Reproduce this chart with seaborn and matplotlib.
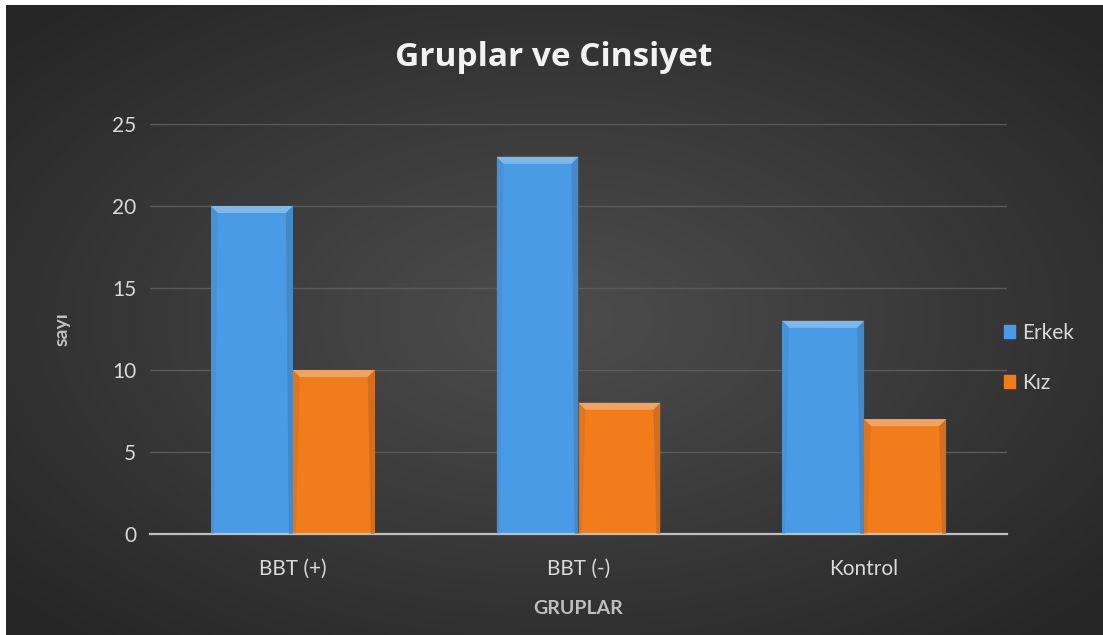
import numpy as np
import pandas as pd
import matplotlib.pyplot as plt
import seaborn as sns
from matplotlib.patches import Polygon

# data
groups = ["BBT (+)", "BBT (-)", "Kontrol"]
erkek = [20, 23, 13]
kiz = [10, 8, 7]
series_names = ["Erkek", "Kız"]
colors = ["#4a9be6", "#f07c1c"]

df = pd.DataFrame({
    "grup": groups * 2,
    "sayi": erkek + kiz,
    "cinsiyet": [series_names[0]] * 3 + [series_names[1]] * 3,
})

sns.set_style("dark")
plt.rcParams['font.family'] = ['Lato', 'DejaVu Sans']
txt = "#d9d9d9"

fig = plt.figure(figsize=(11.03, 6.35), dpi=100, facecolor="white")

# dark radial gradient background (Excel style)
bg = fig.add_axes([6 / 1103, 0, 1 - 6 / 1103, 1 - 5 / 635], zorder=-10)
yy, xx = np.mgrid[-1:1:300j, -1:1:500j]
r = np.sqrt(xx ** 2 + yy ** 2)
bg.imshow(r, cmap=sns.blend_palette(["#4d4d4d", "#3a3a3a", "#262626"], as_cmap=True),
          aspect="auto", extent=[0, 1, 0, 1], vmin=0, vmax=1.35)
bg.axis("off")

ax = fig.add_axes([150 / 1103, 101 / 635, 857 / 1103, 410 / 635])
ax.patch.set_alpha(0)
sns.barplot(data=df, x="grup", y="sayi", hue="cinsiyet", palette=colors,
            width=0.574, saturation=1, gap=0, ax=ax, legend=True, zorder=3,
            edgecolor="none", linewidth=0)

ax.set_ylim(0, 25)
ax.set_yticks(range(0, 26, 5))
ax.grid(axis="y", color="#5a5a5a", linewidth=1, zorder=0)
ax.grid(axis="x", visible=False)
for s in ["top", "right", "left"]:
    ax.spines[s].set_visible(False)
ax.spines["bottom"].set_color("#bfbfbf")
ax.spines["bottom"].set_linewidth(1.6)
ax.spines["bottom"].set_zorder(5)
ax.tick_params(axis="both", colors=txt, labelsize=15, length=0, pad=10)
ax.tick_params(axis="x", pad=18)

ax.set_xlabel("GRUPLAR", color="#bfbfbf", fontsize=14, fontweight="bold", labelpad=15)
ax.set_ylabel("sayı", color="#bfbfbf", fontsize=14, fontweight="bold", labelpad=30)

fig.suptitle("Gruplar ve Cinsiyet", color="#f2f2f2", fontsize=24, fontweight="bold",
             family=["Open Sans", "DejaVu Sans"], y=1 - 57 / 635, va="center", x=0.502)

# bevel look on bars, derived from the drawn patches
fig.canvas.draw()
for cont, base in zip(ax.containers, colors):
    light = sns.light_palette(base, 4, reverse=True)[1]
    dark = sns.dark_palette(base, 5, reverse=True)[1]
    for p in cont.patches:
        x0, y0 = ax.transData.transform((p.get_x(), 0))
        x1, y1 = ax.transData.transform((p.get_x() + p.get_width(), p.get_height()))
        b = 7
        top = Polygon([(x0, y1), (x1, y1), (x1 - b, y1 - b), (x0 + b, y1 - b)],
                      closed=True, transform=None, facecolor=light, edgecolor="none", zorder=4)
        right = Polygon([(x1, y1), (x1, y0), (x1 - 4, y0), (x1 - b, y1 - b)],
                        closed=True, transform=None, facecolor=dark, edgecolor="none",
                        alpha=0.6, zorder=4)
        left = Polygon([(x0, y1), (x0, y0), (x0 + 3, y0), (x0 + b, y1 - b)],
                       closed=True, transform=None, facecolor=dark, edgecolor="none",
                       alpha=0.3, zorder=4)
        for poly in (top, right, left):
            fig.add_artist(poly)

ax.legend_.remove()
handles = [plt.Rectangle((0, 0), 1, 1, color=c) for c in colors]
fig.legend(handles, series_names, loc="center left", bbox_to_anchor=(985 / 1103, 277 / 635),
           frameon=False, labelcolor=txt, fontsize=15, handlelength=0.55, handleheight=0.55,
           handletextpad=0.35, labelspacing=1.45)

fig.savefig("out.png", dpi=100, facecolor="white")
